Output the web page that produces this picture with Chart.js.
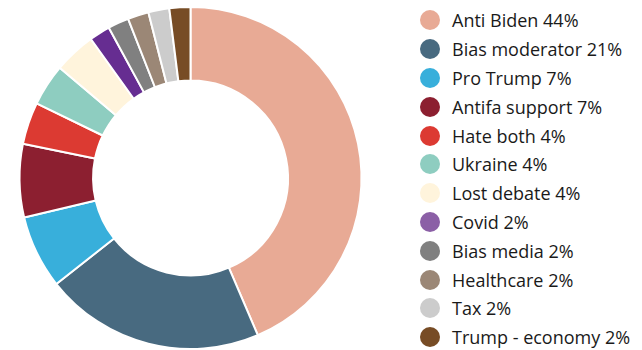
<!DOCTYPE html>
<html>
<head>
<meta charset="utf-8">
<script src="https://cdn.jsdelivr.net/npm/chart.js@4/dist/chart.umd.min.js"></script>
<style>
  html, body { margin: 0; padding: 0; background: #fff; }
  #wrap { position: relative; width: 642px; height: 350px; overflow: hidden; }
  #pie { position: absolute; left: 0; top: 0; width: 381px; height: 350px; }
  #legend { position: absolute; left: 420px; top: 6px; margin: 0; padding: 0; list-style: none;
            font-family: "Open Sans", sans-serif; font-size: 18px; color: #1a1a1a; }
  #legend li { display: flex; align-items: center; height: 28.8px; white-space: nowrap; }
  #legend span.dot { display: inline-block; width: 20px; height: 20px; border-radius: 50%; margin-right: 12px; flex: none; }
</style>
</head>
<body>
<div id="wrap">
  <div id="pie"><canvas id="c"></canvas></div>
  <ul id="legend"></ul>
</div>
<script>
const categories = ['Anti Biden', 'Bias moderator', 'Pro Trump', 'Antifa support', 'Hate both',
  'Ukraine', 'Lost debate', 'Covid', 'Bias media', 'Healthcare', 'Tax', 'Trump - economy'];
const shares = [44, 21, 7, 7, 4, 4, 4, 2, 2, 2, 2, 2];
const colours = ['#e8aa95', '#486a80', '#38afdb', '#8c1f30', '#dc3a32', '#8ecdc0',
  '#fff4dc', '#662d91', '#808080', '#9b8776', '#cccccc', '#774c25'];
// the legend swatch for Covid is a lighter purple than its slice
const swatches = colours.map((c, i) => categories[i] === 'Covid' ? '#8b5fa6' : c);

// builds the list on the right from the chart's own labels
const htmlLegend = {
  id: 'htmlLegend',
  afterUpdate(chart) {
    const ul = document.getElementById('legend');
    ul.innerHTML = '';
    const ds = chart.data.datasets[0];
    chart.data.labels.forEach((label, i) => {
      const li = document.createElement('li');
      const dot = document.createElement('span');
      dot.className = 'dot';
      dot.style.background = swatches[i];
      li.appendChild(dot);
      li.appendChild(document.createTextNode(`${label} ${ds.data[i]}%`));
      ul.appendChild(li);
    });
  }
};

new Chart(document.getElementById('c'), {
  type: 'doughnut',
  data: {
    labels: categories,
    datasets: [{
      data: shares,
      backgroundColor: colours,
      borderColor: '#ffffff',
      borderWidth: 2
    }]
  },
  options: {
    responsive: true,
    maintainAspectRatio: false,
    animation: false,
    cutout: '57%',
    layout: { padding: { top: 6 } },
    plugins: {
      legend: { display: false },
      tooltip: { enabled: false }
    }
  },
  plugins: [htmlLegend]
});
</script>
</body>
</html>
